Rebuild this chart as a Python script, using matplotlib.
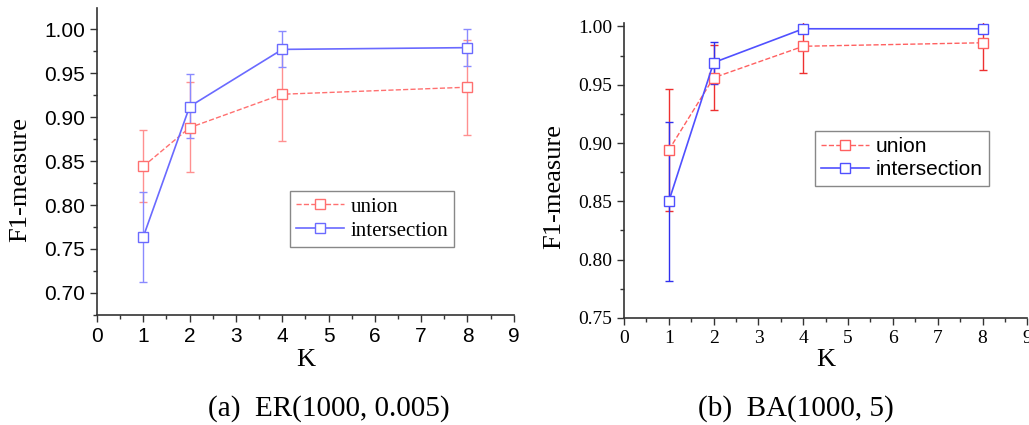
import numpy as np
import matplotlib
matplotlib.use('Agg')
import matplotlib.pyplot as plt
from matplotlib.ticker import MultipleLocator, FormatStrFormatter
from matplotlib.lines import Line2D

K = [1, 2, 4, 8]

# (a) ER(1000, 0.005)
er_union = [0.844, 0.888, 0.926, 0.934]
er_union_lo = [0.803, 0.837, 0.873, 0.880]
er_union_hi = [0.885, 0.940, 0.979, 0.988]
er_inter = [0.764, 0.912, 0.977, 0.979]
er_inter_lo = [0.713, 0.876, 0.957, 0.958]
er_inter_hi = [0.815, 0.949, 0.998, 1.000]

# (b) BA(1000, 5)
ba_union = [0.894, 0.956, 0.983, 0.986]
ba_union_lo = [0.842, 0.928, 0.960, 0.963]
ba_union_hi = [0.946, 0.984, 1.005, 1.008]
ba_inter = [0.850, 0.969, 0.998, 0.998]
ba_inter_lo = [0.782, 0.951, 0.996, 0.996]
ba_inter_hi = [0.918, 0.987, 1.001, 1.001]

serif = 'Liberation Serif'
sans = 'Liberation Sans'


def errs(v, lo, hi):
    v = np.array(v)
    return [v - np.array(lo), np.array(hi) - v]


def panel(ax, u, ulo, uhi, it, itlo, ithi, ucol, icol, ecol_u, ecol_i,
          ylim, yticks, tickfont, tsize, legfont, legpos, labpos):
    ax.errorbar(K, u, yerr=errs(u, ulo, uhi), color=ucol, ecolor=ecol_u,
                ls='--', lw=1, marker='s', ms=6.5, mfc='white', mec=ucol,
                capsize=3, elinewidth=1)
    ax.errorbar(K, it, yerr=errs(it, itlo, ithi), color=icol, ecolor=ecol_i,
                ls='-', lw=1.2, marker='s', ms=6.5, mfc='white', mec=icol,
                capsize=3, elinewidth=1)
    ax.set_xlim(0, 9)
    ax.set_ylim(*ylim)
    ax.set_xticks(range(0, 10))
    ax.set_yticks(yticks)
    ax.yaxis.set_major_formatter(FormatStrFormatter('%.2f'))
    ax.xaxis.set_minor_locator(MultipleLocator(0.5))
    ax.yaxis.set_minor_locator(MultipleLocator(0.025))
    for s in ['top', 'right']:
        ax.spines[s].set_visible(False)
    for s in ['left', 'bottom']:
        ax.spines[s].set_color('#333333')
        ax.spines[s].set_linewidth(1.2)
    ax.tick_params(which='major', length=5, width=1, color='#333333')
    ax.tick_params(which='minor', length=3, width=1, color='#333333')
    for lab in ax.get_xticklabels() + ax.get_yticklabels():
        lab.set_family(tickfont)
        lab.set_fontsize(tsize)
    ax.set_xlabel('K', family=serif, fontsize=19, labelpad=2)
    ax.set_ylabel('F1-measure', family=serif, fontsize=19)
    ax.yaxis.set_label_coords(*labpos)
    handles = [
        Line2D([], [], color=ucol, ls='--', lw=1, marker='s', ms=6.5,
               mfc='white', mec=ucol),
        Line2D([], [], color=icol, ls='-', lw=1.2, marker='s', ms=6.5,
               mfc='white', mec=icol),
    ]
    leg = ax.legend(handles, ['union', 'intersection'], loc='upper left',
                    bbox_to_anchor=legpos, numpoints=1,
                    prop={'family': legfont, 'size': 15}, fancybox=False,
                    handlelength=2.3, borderpad=0.3, labelspacing=0.2,
                    handletextpad=0.3, borderaxespad=0, framealpha=1)
    leg.get_frame().set_edgecolor('#888888')
    leg.get_frame().set_linewidth(1)


fig = plt.figure(figsize=(10.29, 4.25), dpi=100)
ax1 = fig.add_axes([0.0943, 0.259, 0.405, 0.722])
ax2 = fig.add_axes([0.6064, 0.252, 0.392, 0.694])

panel(ax1, er_union, er_union_lo, er_union_hi, er_inter, er_inter_lo, er_inter_hi,
      '#ff7070', '#6a6aff', '#ff9090', '#8a8aff',
      (0.675, 1.024), [0.70, 0.75, 0.80, 0.85, 0.90, 0.95, 1.00],
      sans, 15, serif, (0.463, 0.404), (-0.157, 0.44))
panel(ax2, ba_union, ba_union_lo, ba_union_hi, ba_inter, ba_inter_lo, ba_inter_hi,
      '#ff6060', '#5050ff', '#ee3030', '#3030ee',
      (0.75, 1.003), [0.75, 0.80, 0.85, 0.90, 0.95, 1.00],
      serif, 14, sans, (0.474, 0.634), (-0.146, 0.444))

fig.text(0.32, 0.022, '(a)  ER(1000, 0.005)', family=serif, fontsize=21, ha='center')
fig.text(0.773, 0.022, '(b)  BA(1000, 5)', family=serif, fontsize=21, ha='center')

fig.savefig('out.png', dpi=100)
